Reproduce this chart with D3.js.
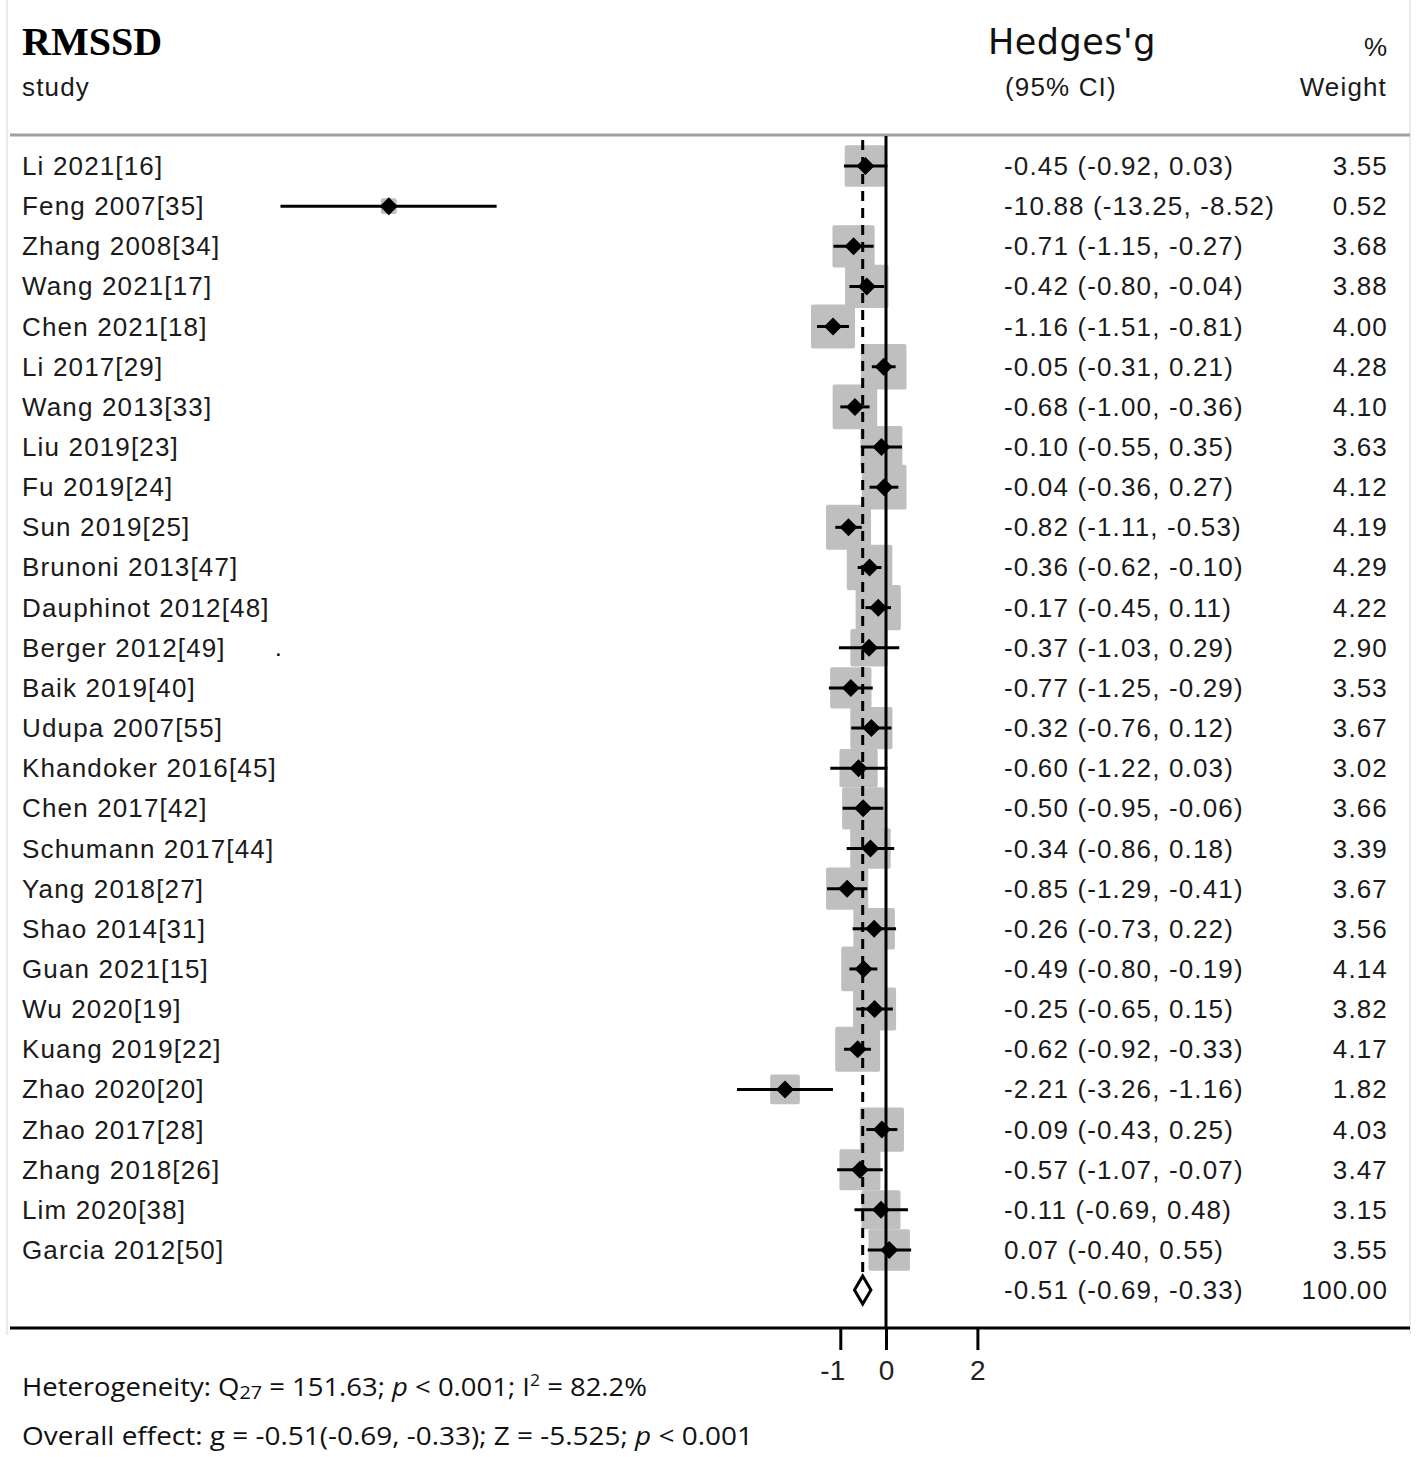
<!DOCTYPE html>
<html><head><meta charset="utf-8">
<script src="https://cdn.jsdelivr.net/npm/d3@7"></script>
<style>body{margin:0;background:#fff}</style>
</head><body>
<script>
const studies = ["Li 2021[16]","Feng 2007[35]","Zhang 2008[34]","Wang 2021[17]","Chen 2021[18]","Li 2017[29]","Wang 2013[33]","Liu 2019[23]","Fu 2019[24]","Sun 2019[25]","Brunoni 2013[47]","Dauphinot 2012[48]","Berger 2012[49]","Baik 2019[40]","Udupa 2007[55]","Khandoker 2016[45]","Chen 2017[42]","Schumann 2017[44]","Yang 2018[27]","Shao 2014[31]","Guan 2021[15]","Wu 2020[19]","Kuang 2019[22]","Zhao 2020[20]","Zhao 2017[28]","Zhang 2018[26]","Lim  2020[38]","Garcia 2012[50]"];
const g  = [-0.45,-10.88,-0.71,-0.42,-1.16,-0.05,-0.68,-0.10,-0.04,-0.82,-0.36,-0.17,-0.37,-0.77,-0.32,-0.60,-0.50,-0.34,-0.85,-0.26,-0.49,-0.25,-0.62,-2.21,-0.09,-0.57,-0.11,0.07];
const lo = [-0.92,-13.25,-1.15,-0.80,-1.51,-0.31,-1.00,-0.55,-0.36,-1.11,-0.62,-0.45,-1.03,-1.25,-0.76,-1.22,-0.95,-0.86,-1.29,-0.73,-0.80,-0.65,-0.92,-3.26,-0.43,-1.07,-0.69,-0.40];
const hi = [0.03,-8.52,-0.27,-0.04,-0.81,0.21,-0.36,0.35,0.27,-0.53,-0.10,0.11,0.29,-0.29,0.12,0.03,-0.06,0.18,-0.41,0.22,-0.19,0.15,-0.33,-1.16,0.25,-0.07,0.48,0.55];
const weight = [3.55,0.52,3.68,3.88,4.00,4.28,4.10,3.63,4.12,4.19,4.29,4.22,2.90,3.53,3.67,3.02,3.66,3.39,3.67,3.56,4.14,3.82,4.17,1.82,4.03,3.47,3.15,3.55];
const overall = {g:-0.51, lo:-0.69, hi:-0.33, weight:"100.00"};
const tickValues = [-1,0,2];

const W=1417,H=1457;
const svg=d3.select("body").append("svg").attr("width",W).attr("height",H);
const sans="'Liberation Sans', Arial, sans-serif";
const FS=26, LS=1.15, TXT="#1a1a1a";

const x=d3.scaleLinear().domain([0,2]).range([886,977.4]);
const y=d3.scaleLinear().domain([0,studies.length-1]).range([166,1250]);
const yOverall=1290;
const boxSide=w=>22*Math.sqrt(w);
const fmt=v=>d3.format(".2f")(v).replace("−","-");

// frame
svg.append("line").attr("x1",7).attr("x2",7).attr("y1",0).attr("y2",1335).attr("stroke","#e4e4e4").attr("stroke-width",1.5);
svg.append("line").attr("x1",1410).attr("x2",1410).attr("y1",0).attr("y2",1335).attr("stroke","#e4e4e4").attr("stroke-width",1.5);

// headers
svg.append("text").attr("x",22).attr("y",55).text("RMSSD").attr("font-family","'Liberation Serif','Times New Roman',serif").attr("font-weight","bold").attr("font-size",40);
svg.append("text").attr("x",22).attr("y",96).text("study").attr("font-family",sans).attr("font-size",FS).attr("letter-spacing",LS).attr("fill",TXT);
svg.append("text").attr("x",988).attr("y",54).text("Hedges'g").attr("font-family","'DejaVu Sans',sans-serif").attr("font-size",35).attr("letter-spacing",0.5).attr("fill","#111");
svg.append("text").attr("x",1005).attr("y",96).text("(95% CI)").attr("font-family",sans).attr("font-size",FS).attr("letter-spacing",LS).attr("fill",TXT);
svg.append("text").attr("x",1387).attr("y",56).attr("text-anchor","end").text("%").attr("font-family",sans).attr("font-size",FS).attr("fill",TXT);
svg.append("text").attr("x",1387).attr("y",96).attr("text-anchor","end").text("Weight").attr("font-family",sans).attr("font-size",FS).attr("letter-spacing",LS).attr("fill",TXT);
svg.append("line").attr("x1",10).attr("x2",1410).attr("y1",135).attr("y2",135).attr("stroke","#a0a0a0").attr("stroke-width",3);

const rows=studies.map((s,i)=>({s,g:g[i],lo:lo[i],hi:hi[i],w:weight[i],i}));

// boxes
svg.append("g").selectAll("rect").data(rows).join("rect")
 .attr("x",d=>x(d.g)-boxSide(d.w)/2).attr("y",d=>y(d.i)-boxSide(d.w)/2)
 .attr("width",d=>boxSide(d.w)).attr("height",d=>boxSide(d.w))
 .attr("rx",2).attr("fill","#bfbfbf");

// dashed overall line
svg.append("line").attr("x1",x(overall.g)).attr("x2",x(overall.g)).attr("y1",140).attr("y2",1274)
 .attr("stroke","#000").attr("stroke-width",3).attr("stroke-dasharray","10,7");

// CI lines
svg.append("g").selectAll("line").data(rows).join("line")
 .attr("x1",d=>x(d.lo)).attr("x2",d=>x(d.hi)).attr("y1",d=>y(d.i)).attr("y2",d=>y(d.i))
 .attr("stroke","#000").attr("stroke-width",3);

// point diamonds
svg.append("g").selectAll("path").data(rows).join("path")
 .attr("d",d=>{const cx=x(d.g),cy=y(d.i),r=9;return `M${cx-r},${cy}L${cx},${cy-r}L${cx+r},${cy}L${cx},${cy+r}Z`;})
 .attr("fill","#000");

// overall diamond
{const a=x(overall.lo),b=x(overall.hi),c=x(overall.g),cy=yOverall,h=14;
svg.append("path").attr("d",`M${a},${cy}L${c},${cy-h}L${b},${cy}L${c},${cy+h}Z`)
 .attr("fill","#fff").attr("stroke","#000").attr("stroke-width",3);}

// zero line
svg.append("line").attr("x1",x(0)).attr("x2",x(0)).attr("y1",136).attr("y2",1328).attr("stroke","#000").attr("stroke-width",3);

// bottom axis
svg.append("line").attr("x1",10).attr("x2",1410).attr("y1",1328).attr("y2",1328).attr("stroke","#000").attr("stroke-width",3);
const axis=d3.axisBottom(x).tickValues(tickValues).tickSize(22).tickFormat(d3.format("d"));
const ag=svg.append("g").attr("transform","translate(0,1328)").call(axis);
ag.select(".domain").remove();
ag.selectAll(".tick line").attr("stroke","#000").attr("stroke-width",3);
ag.selectAll(".tick text").attr("y",32).attr("dy","0.71em").attr("font-family",sans).attr("font-size",28).attr("fill","#222")
 .text(d=>String(d).replace("−","-"));
ag.selectAll(".tick").filter(d=>d===-1).select("text").attr("dx",-8);

// study text
const txt=(sel)=>sel.attr("font-family",sans).attr("font-size",FS).attr("letter-spacing",LS).attr("fill",TXT);
txt(svg.append("g").selectAll("text").data(rows).join("text")
 .attr("x",22).attr("y",d=>y(d.i)+9).text(d=>d.s));
txt(svg.append("g").selectAll("text").data(rows).join("text")
 .attr("x",1004).attr("y",d=>y(d.i)+9).text(d=>`${fmt(d.g)} (${fmt(d.lo)}, ${fmt(d.hi)})`));
txt(svg.append("g").selectAll("text").data(rows).join("text")
 .attr("x",1388).attr("y",d=>y(d.i)+9).attr("text-anchor","end").text(d=>d3.format(".2f")(d.w)));
txt(svg.append("text").attr("x",1004).attr("y",yOverall+9).text(`${fmt(overall.g)} (${fmt(overall.lo)}, ${fmt(overall.hi)})`));
txt(svg.append("text").attr("x",1388).attr("y",yOverall+9).attr("text-anchor","end").text(overall.weight));
// stray dot
svg.append("text").attr("x",275).attr("y",656).text(".").attr("font-family",sans).attr("font-size",24);

// footer
const ff="'Open Sans','Noto Sans',sans-serif";
const t1=svg.append("text").attr("x",22).attr("y",1396).attr("font-family",ff).attr("font-size",25).attr("fill","#111").attr("textLength",625).attr("lengthAdjust","spacingAndGlyphs");
t1.append("tspan").text("Heterogeneity: Q");
t1.append("tspan").text("27").attr("font-size",18).attr("dy",3);
t1.append("tspan").text(" = 151.63; ").attr("dy",-3);
t1.append("tspan").text("p").attr("font-style","italic");
t1.append("tspan").text(" < 0.001; I");
t1.append("tspan").text("2").attr("font-size",16).attr("dy",-10);
t1.append("tspan").text(" = 82.2%").attr("dy",10);
const t2=svg.append("text").attr("x",22).attr("y",1445).attr("font-family",ff).attr("font-size",25).attr("fill","#111").attr("textLength",731).attr("lengthAdjust","spacingAndGlyphs");
t2.append("tspan").text("Overall effect: g = -0.51(-0.69, -0.33); Z = -5.525; ");
t2.append("tspan").text("p").attr("font-style","italic");
t2.append("tspan").text(" < 0.001");
</script>
</body></html>
